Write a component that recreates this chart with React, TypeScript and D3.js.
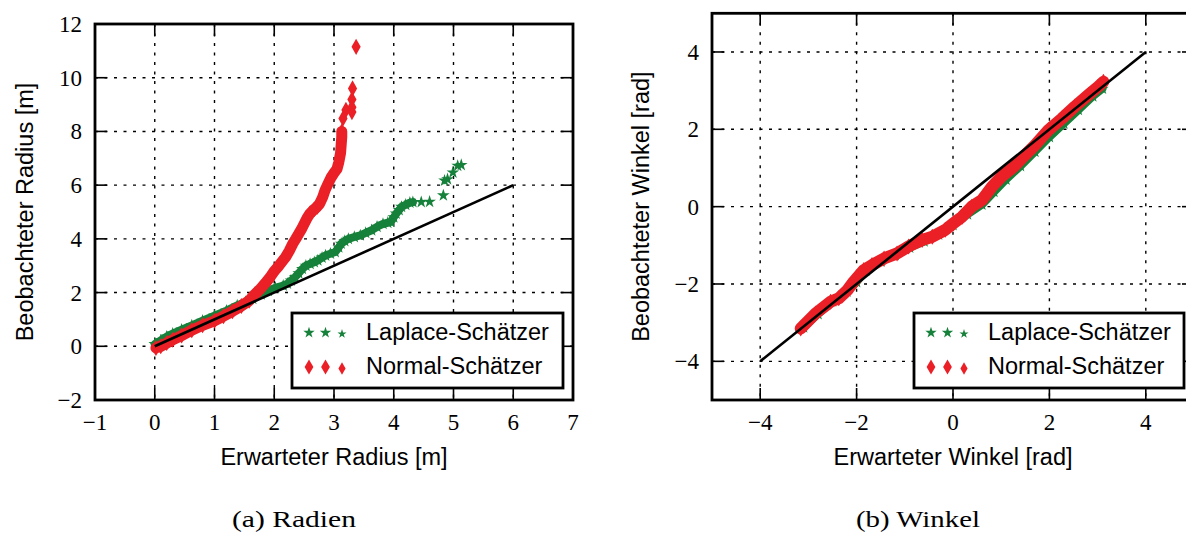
import React from "react";
import * as d3 from "d3";

type P = [number, number];

// ---------- data ----------
const radiusXTicks = [-1, 0, 1, 2, 3, 4, 5, 6, 7];
const radiusYTicks = [-2, 0, 2, 4, 6, 8, 10, 12];
const angleXTicks = [-4, -2, 0, 2, 4];
const angleYTicks = [-4, -2, 0, 2, 4];

const radiusReference: P[] = [[0, 0], [6, 6]];
const angleReference: P[] = [[-4, -4], [4, 4]];

const radiusLaplaceBand: P[] = [
  [0.0, 0.08], [0.1, 0.22], [0.2, 0.36], [0.3, 0.47], [0.45, 0.62], [0.62, 0.78], [0.8, 0.95],
  [1.0, 1.14], [1.2, 1.33], [1.38, 1.52], [1.52, 1.65], [1.64, 1.77], [1.78, 1.93], [1.9, 2.06],
  [2.02, 2.18], [2.15, 2.26], [2.22, 2.33], [2.28, 2.45], [2.35, 2.58], [2.41, 2.72], [2.47, 2.88],
  [2.53, 3.0], [2.6, 3.07], [2.67, 3.13], [2.73, 3.2], [2.8, 3.3], [2.86, 3.38], [2.94, 3.45],
  [3.02, 3.51], [3.08, 3.68], [3.12, 3.82], [3.18, 3.92], [3.24, 4.0], [3.34, 4.07], [3.44, 4.13],
  [3.53, 4.22], [3.63, 4.32], [3.72, 4.45], [3.82, 4.56], [3.9, 4.6], [3.95, 4.63], [4.0, 4.8],
  [4.04, 4.94], [4.09, 5.07], [4.13, 5.19], [4.2, 5.27], [4.27, 5.35], [4.32, 5.37],
];
const radiusLaplaceTail: P[] = [
  [4.46, 5.37], [4.6, 5.38], [4.83, 5.62], [4.85, 6.17], [4.9, 6.22], [4.99, 6.47], [5.07, 6.72], [5.13, 6.75],
];
const radiusNormalBand: P[] = [
  [0.02, -0.06], [0.1, 0.0], [0.2, 0.12], [0.3, 0.24], [0.45, 0.4], [0.62, 0.6], [0.8, 0.78],
  [1.0, 0.95], [1.15, 1.12], [1.3, 1.3], [1.45, 1.5], [1.58, 1.7], [1.68, 1.95], [1.77, 2.14],
  [1.85, 2.35], [1.93, 2.57], [2.0, 2.8], [2.06, 2.95], [2.13, 3.15], [2.19, 3.32], [2.25, 3.55],
  [2.31, 3.82], [2.36, 4.0], [2.41, 4.19], [2.46, 4.38], [2.5, 4.56], [2.55, 4.78], [2.6, 4.95],
  [2.67, 5.1], [2.72, 5.2], [2.76, 5.31], [2.81, 5.55], [2.85, 5.81], [2.9, 6.05], [2.95, 6.28],
  [3.0, 6.45], [3.05, 6.6], [3.08, 6.85], [3.11, 7.2], [3.12, 7.5], [3.13, 7.8], [3.13, 8.0],
];
const radiusNormalTail: P[] = [
  [3.15, 8.48], [3.2, 8.8], [3.3, 8.72], [3.3, 8.9], [3.3, 9.19], [3.31, 9.6], [3.37, 11.15],
];

const angleLaplaceBand: P[] = [
  [-3.1, -3.12], [-2.8, -2.78], [-2.5, -2.45], [-2.2, -2.2], [-2.0, -1.95], [-1.8, -1.65],
  [-1.5, -1.42], [-1.2, -1.25], [-0.9, -1.06], [-0.6, -0.9], [-0.3, -0.72], [0.0, -0.48],
  [0.3, -0.2], [0.6, 0.05], [0.85, 0.38], [1.1, 0.7], [1.4, 1.05], [1.7, 1.42], [2.0, 1.8],
  [2.3, 2.15], [2.6, 2.5], [2.9, 2.85], [3.1, 3.05],
];
const angleNormalBand: P[] = [
  [-3.16, -3.15], [-2.85, -2.76], [-2.54, -2.46], [-2.37, -2.37], [-2.19, -2.16], [-2.06, -1.94],
  [-1.85, -1.64], [-1.68, -1.51], [-1.43, -1.34], [-1.16, -1.21], [-0.92, -1.03], [-0.64, -0.86],
  [-0.43, -0.78], [-0.16, -0.6], [0.01, -0.43], [0.19, -0.26], [0.39, 0.0], [0.6, 0.17],
  [0.81, 0.52], [1.01, 0.78], [1.26, 1.03], [1.46, 1.29], [1.7, 1.59], [1.98, 1.98],
  [2.26, 2.28], [2.53, 2.59], [2.81, 2.89], [3.01, 3.1], [3.12, 3.23],
];

const legendLabels = ["Laplace-Schätzer", "Normal-Schätzer"];
const captions = ["(a) Radien", "(b) Winkel"];

// ---------- styles ----------
const GREEN = "#16813a";
const RED = "#eb2027";
const SANS = "'Liberation Sans', Arial, Helvetica, sans-serif";
const SERIF = "'Liberation Serif', 'Times New Roman', serif";

const starPath = (size: number) => d3.symbol(d3.symbolStar, size)() as string;
const diamondPath = (w: number, h: number) => `M0,${-h}L${w},0L0,${h}L${-w},0Z`;

const fmt = (v: number) => (v < 0 ? "\u2212" + Math.abs(v) : String(v));

interface PanelProps {
  x: d3.ScaleLinear<number, number>;
  y: d3.ScaleLinear<number, number>;
  xTicks: number[];
  yTicks: number[];
  refLine: P[];
  greenBand: P[];
  greenTail: P[];
  redBand: P[];
  redTail: P[];
  xLabel: string;
  yLabel: string;
  yLabelX: number;
  legendX: number;
  legendW: number;
  caption: string;
  captionX: number;
  greenBandWidth: number;
  redBandWidth: number;
}

function Panel(p: PanelProps) {
  const { x, y } = p;
  const [x0, x1] = x.range();
  const [y0, y1] = y.range(); // y0 bottom, y1 top
  const line = d3.line<P>().x((d) => x(d[0])).y((d) => y(d[1]));
  const tickLen = 12;
  const legendTop = 313;
  const legendH = 75;
  const lx = p.legendX;
  return (
    <g>
      {/* grid */}
      {p.xTicks.filter((t) => x(t) > x0 + 2 && x(t) < x1 - 2).map((t) => (
        <line key={"gx" + t} x1={x(t)} x2={x(t)} y1={y1} y2={y0} stroke="#000" strokeWidth={1.4} strokeDasharray="3,6.5" />
      ))}
      {p.yTicks.filter((t) => y(t) < y0 - 2 && y(t) > y1 + 2).map((t) => (
        <line key={"gy" + t} x1={x0} x2={x1} y1={y(t)} y2={y(t)} stroke="#000" strokeWidth={1.4} strokeDasharray="3,6.5" />
      ))}
      {/* green band */}
      <path d={line(p.greenBand) as string} fill="none" stroke={GREEN} strokeWidth={p.greenBandWidth} strokeLinejoin="round" strokeLinecap="round" />
      {p.greenBand.concat(p.greenTail).map((d, i) => (
        <path key={"gs" + i} d={starPath(50)} transform={`translate(${x(d[0])},${y(d[1])})`} fill={GREEN} />
      ))}
      {/* red band */}
      <path d={line(p.redBand) as string} fill="none" stroke={RED} strokeWidth={p.redBandWidth} strokeLinejoin="round" strokeLinecap="round" />
      {p.redBand.map((d, i) => (
        <path key={"rb" + i} d={diamondPath(5, 8)} transform={`translate(${x(d[0])},${y(d[1])})`} fill={RED} />
      ))}
      {p.redTail.map((d, i) => (
        <path key={"rt" + i} d={diamondPath(4.6, 8.2)} transform={`translate(${x(d[0])},${y(d[1])})`} fill={RED} />
      ))}
      {/* reference line */}
      <path d={line(p.refLine) as string} fill="none" stroke="#000" strokeWidth={2.6} />
      {/* ticks */}
      {p.xTicks.map((t) => (
        <g key={"tx" + t}>
          <line x1={x(t)} x2={x(t)} y1={y0} y2={y0 - tickLen} stroke="#000" strokeWidth={1.6} />
          <line x1={x(t)} x2={x(t)} y1={y1} y2={y1 + tickLen} stroke="#000" strokeWidth={1.6} />
          <text x={x(t)} y={430} textAnchor="middle" fontFamily={SERIF} fontSize={23}>{fmt(t)}</text>
        </g>
      ))}
      {p.yTicks.map((t) => (
        <g key={"ty" + t}>
          <line x1={x0} x2={x0 + tickLen} y1={y(t)} y2={y(t)} stroke="#000" strokeWidth={1.6} />
          <line x1={x1} x2={x1 - tickLen} y1={y(t)} y2={y(t)} stroke="#000" strokeWidth={1.6} />
          <text x={x0 - 13} y={y(t) + 8} textAnchor="end" fontFamily={SERIF} fontSize={23}>{fmt(t)}</text>
        </g>
      ))}
      {/* legend */}
      <rect x={lx} y={legendTop} width={p.legendW} height={legendH} fill="#fff" stroke="#000" strokeWidth={2.8} />
      {[0, 1, 2].map((i) => (
        <path key={"ls" + i} d={starPath(i === 2 ? 26 : 40)} transform={`translate(${lx + 17 + i * 16.5},${332.7 + (i === 2 ? 1.2 : 0)})`} fill={GREEN} />
      ))}
      {[0, 1, 2].map((i) => (
        <path key={"ld" + i} d={i === 2 ? diamondPath(3.6, 6.2) : diamondPath(4.4, 7.6)} transform={`translate(${lx + 17 + i * 16.5},${367 + (i === 2 ? 1.5 : 0)})`} fill={RED} />
      ))}
      <text x={lx + 74} y={339.5} fontFamily={SANS} fontSize={23.5}>{legendLabels[0]}</text>
      <text x={lx + 74} y={373.5} fontFamily={SANS} fontSize={23.5}>{legendLabels[1]}</text>
      {/* frame */}
      <rect x={x0} y={y1} width={x1 - x0} height={y0 - y1} fill="none" stroke="#000" strokeWidth={2.8} />
      {/* axis labels */}
      <text x={(x(p.xTicks[0]) + x(p.xTicks[p.xTicks.length - 1])) / 2} y={465} textAnchor="middle" fontFamily={SANS} fontSize={23.5}>{p.xLabel}</text>
      <text transform={`translate(${p.yLabelX},${(y0 + y1) / 2}) rotate(-90)`} textAnchor="middle" fontFamily={SANS} fontSize={23.5}>{p.yLabel}</text>
      {/* caption */}
      <text x={p.captionX} y={527} textAnchor="middle" fontFamily={SERIF} fontSize={24} textLength={124} lengthAdjust="spacingAndGlyphs">{p.caption}</text>
    </g>
  );
}

export default function App() {
  const rx = d3.scaleLinear().domain([-1, 7]).range([95, 573]);
  const ry = d3.scaleLinear().domain([-2, 12]).range([400, 24]);
  const ax = d3.scaleLinear().domain([-5, 5]).range([712, 1194]);
  const ay = d3.scaleLinear().domain([-5, 5]).range([400, 13.3]);
  return (
    <div style={{ position: "absolute", left: 0, top: 0 }}>
      <svg width={1186} height={534} style={{ display: "block", background: "#fff" }}>
        <Panel
          x={rx} y={ry} xTicks={radiusXTicks} yTicks={radiusYTicks} refLine={radiusReference}
          greenBand={radiusLaplaceBand} greenTail={radiusLaplaceTail}
          redBand={radiusNormalBand} redTail={radiusNormalTail}
          xLabel="Erwarteter Radius [m]" yLabel="Beobachteter Radius [m]" yLabelX={33}
          legendX={292} legendW={271} caption={captions[0]} captionX={294}
          greenBandWidth={8} redBandWidth={11}
        />
        <Panel
          x={ax} y={ay} xTicks={angleXTicks} yTicks={angleYTicks} refLine={angleReference}
          greenBand={angleLaplaceBand} greenTail={[]}
          redBand={angleNormalBand} redTail={[]}
          xLabel="Erwarteter Winkel [rad]" yLabel="Beobachteter Winkel [rad]" yLabelX={649}
          legendX={914} legendW={270} caption={captions[1]} captionX={918}
          greenBandWidth={8} redBandWidth={12}
        />
      </svg>
    </div>
  );
}
